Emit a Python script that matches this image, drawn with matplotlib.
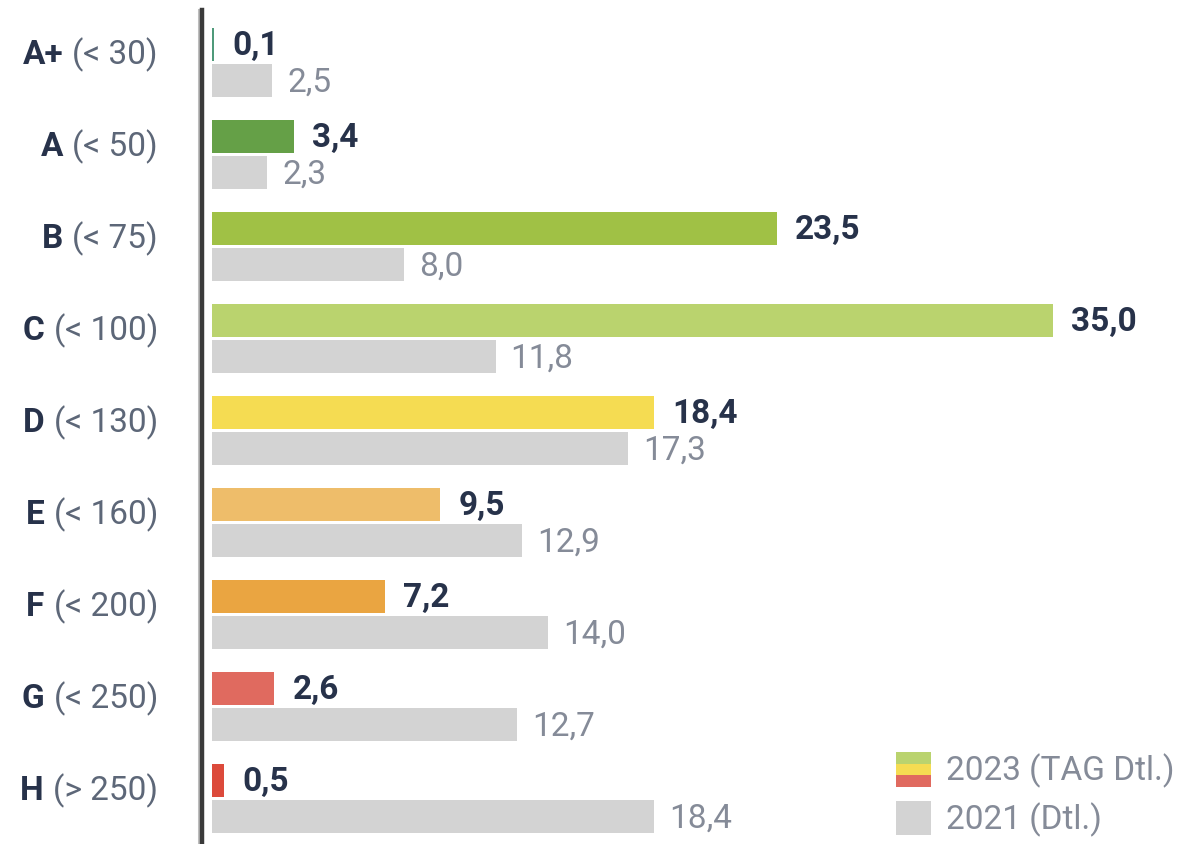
import matplotlib
matplotlib.use("Agg")
import matplotlib.pyplot as plt
from matplotlib.patches import Rectangle
from matplotlib.lines import Line2D

plt.rcParams['font.family'] = ['Roboto', 'DejaVu Sans']

classes = ["A+", "A", "B", "C", "D", "E", "F", "G", "H"]
ranges = ["(< 30)", "(< 50)", "(< 75)", "(< 100)", "(< 130)", "(< 160)", "(< 200)", "(< 250)", "(> 250)"]
values_2023 = [0.1, 3.4, 23.5, 35.0, 18.4, 9.5, 7.2, 2.6, 0.5]
values_2021 = [2.5, 2.3, 8.0, 11.8, 17.3, 12.9, 14.0, 12.7, 18.4]
colors_2023 = ["#4f9a7a", "#65a047", "#a0c145", "#bad36e", "#f5dc52",
               "#eebd6a", "#eaa541", "#e06a5f", "#dc4a3b"]
color_2021 = "#d3d3d3"
legend_labels = ["2023 (TAG Dtl.)", "2021 (Dtl.)"]

W, H = 1188, 844
fig = plt.figure(figsize=(W / 100, H / 100), dpi=100)
ax_left = 212
ax = fig.add_axes([ax_left / W, 0, 1 - ax_left / W, 1])
px_per_unit = 24.03
ax.set_xlim(0, (W - ax_left) / px_per_unit)
row_px = 92.0
row0 = 62.5
ax.set_ylim((H - row0) / row_px, -row0 / row_px)
ax.axis("off")

bh = 0.36
off = 0.2
navy = "#27324a"
gray_txt = "#858b98"
fs = 24
label_right = 158
fig.canvas.draw()
renderer = fig.canvas.get_renderer()
for i, (v23, v21) in enumerate(zip(values_2023, values_2021)):
    ax.barh(i - off, v23, height=bh, color=colors_2023[i], left=0)
    ax.barh(i + off, v21, height=bh, color=color_2021, left=0)
    ax.annotate(f"{v23:.1f}".replace(".", ","), (v23, i - off), xytext=(18, -2),
                textcoords="offset pixels", va="center", ha="left",
                fontsize=fs, fontweight="bold", color=navy)
    ax.annotate(f"{v21:.1f}".replace(".", ","), (v21, i + off), xytext=(15, -2),
                textcoords="offset pixels", va="center", ha="left",
                fontsize=fs, color=gray_txt)
    # category labels
    t = ax.annotate(ranges[i], (0, i - 0.08), xycoords=("axes fraction", "data"),
                    xytext=(-(ax_left - label_right), 0), textcoords="offset pixels",
                    va="center", ha="right", fontsize=fs, color="#5d6778")
    bb = t.get_window_extent(renderer)
    ax.annotate(classes[i], (0, i - 0.08), xycoords=("axes fraction", "data"),
                xytext=(-(ax_left - label_right) - bb.width - 9, 0), textcoords="offset pixels",
                va="center", ha="right", fontsize=fs, fontweight="bold", color=navy)

# vertical axis line
fig.add_artist(Line2D([198.5 / W, 198.5 / W], [0, 1 - 10 / H], transform=fig.transFigure,
                      color="#bdbdbd", lw=2.2))
fig.add_artist(Line2D([202 / W, 202 / W], [0, 1 - 10 / H], transform=fig.transFigure,
                      color="#3a3a3a", lw=3.2))

# legend
def fr(x, y, w, h):
    return (x / W, 1 - (y + h) / H), w / W, h / H

stripes = ["#bad36e", "#f5dc52", "#e06a5f"]
for k, c in enumerate(stripes):
    xy, w, h = fr(896, 752 + k * 11.7, 35, 11.7)
    fig.add_artist(Rectangle(xy, w, h, transform=fig.transFigure, color=c, lw=0))
xy, w, h = fr(896, 801, 35, 34)
fig.add_artist(Rectangle(xy, w, h, transform=fig.transFigure, color=color_2021, lw=0))
fig.text(946 / W, 1 - 771 / H, legend_labels[0], fontsize=fs, color=gray_txt, va="center", ha="left")
fig.text(946 / W, 1 - 820 / H, legend_labels[1], fontsize=fs, color=gray_txt, va="center", ha="left")

fig.savefig("out.png", dpi=100)
